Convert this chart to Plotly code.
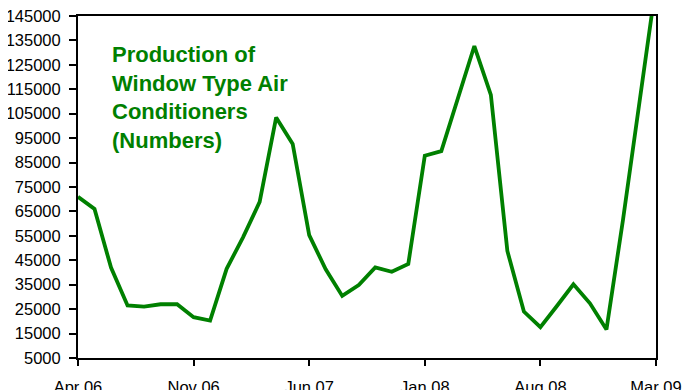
import plotly.graph_objects as go

months = ["Apr 06", "May 06", "Jun 06", "Jul 06", "Aug 06", "Sep 06", "Oct 06", "Nov 06",
          "Dec 06", "Jan 07", "Feb 07", "Mar 07", "Apr 07", "May 07", "Jun 07", "Jul 07",
          "Aug 07", "Sep 07", "Oct 07", "Nov 07", "Dec 07", "Jan 08", "Feb 08", "Mar 08",
          "Apr 08", "May 08", "Jun 08", "Jul 08", "Aug 08", "Sep 08", "Oct 08", "Nov 08",
          "Dec 08", "Jan 09", "Feb 09", "Mar 09"]
production = [71000, 66000, 42000, 26500, 26000, 27000, 27000, 21700,
              20300, 41500, 54500, 68900, 103500, 92600, 55300, 41300,
              30400, 34900, 42100, 40300, 43500, 87800, 89700, 111500,
              132700, 112700, 48800, 24000, 17600, 26300, 35200, 27400,
              16700, 61500, 110000, 158000]
tick_labels = ["Apr 06", "Nov 06", "Jun 07", "Jan 08", "Aug 08", "Mar 09"]
y_ticks = list(range(5000, 145001, 10000))
y_tick_text = [str(v) for v in y_ticks]

font_family = "Arial, Liberation Sans, sans-serif"

fig = go.Figure()
fig.add_trace(go.Scatter(
    x=months, y=production, mode="lines",
    line=dict(color="#008000", width=3.8),
    hoverinfo="x+y", showlegend=False,
))

fig.update_layout(
    width=687, height=390,
    margin=dict(l=70, r=39, t=8, b=40, autoexpand=False),
    paper_bgcolor="white", plot_bgcolor="white",
    font=dict(family=font_family, size=16.5, color="black"),
    xaxis=dict(
        type="category", range=[0, 35], automargin=False,
        tickmode="array", tickvals=tick_labels, ticktext=tick_labels,
        ticks="outside", ticklen=6, tickwidth=2, tickcolor="black",
        showline=True, linecolor="black", linewidth=2, mirror=True,
        showgrid=False, zeroline=False, ticklabelstandoff=7,
        ticklabeloverflow="allow",
    ),
    yaxis=dict(
        range=[5000, 145000], automargin=False,
        tickmode="array", tickvals=y_ticks, ticktext=y_tick_text,
        ticks="outside", ticklen=7, tickwidth=2, tickcolor="black",
        showline=True, linecolor="black", linewidth=2, mirror=True,
        showgrid=False, zeroline=False, ticklabelstandoff=5,
        ticklabeloverflow="allow",
    ),
    annotations=[dict(
        text="Production of<br>Window Type Air<br>Conditioners<br>(Numbers)",
        xref="paper", yref="paper", x=0.056, y=0.929,
        xanchor="left", yanchor="top", align="left", showarrow=False,
        font=dict(family=font_family, size=22, color="#008000", weight="bold"),
    )],
)

fig.write_html("out.html")
